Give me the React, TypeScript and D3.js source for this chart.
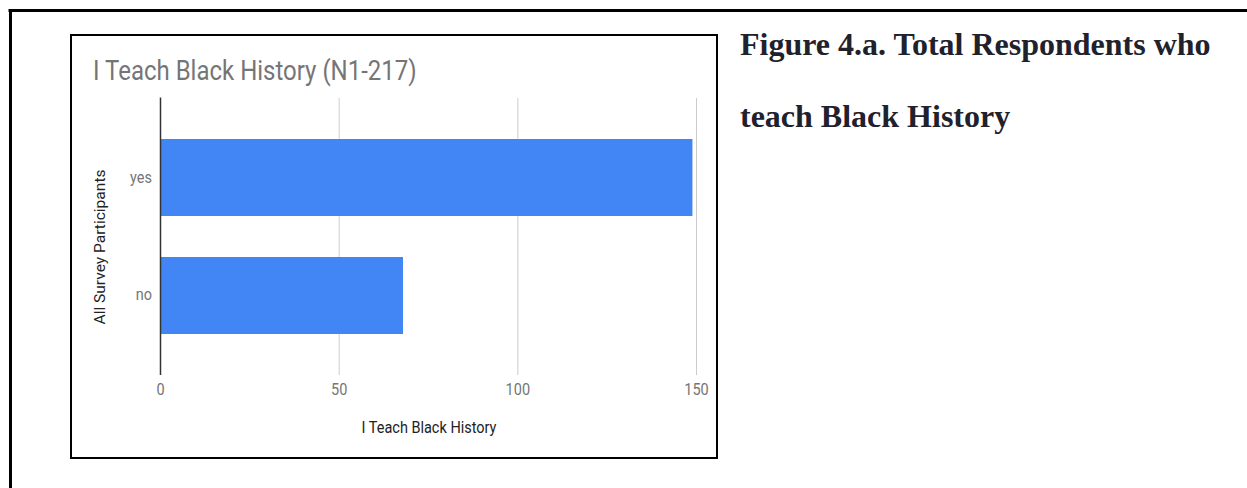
import React from "react";
import * as d3 from "d3";

const categories = ["yes", "no"];
const values = [149, 68];
const xTicks = [0, 50, 100, 150];
const chartTitle = "I Teach Black History (N1-217)";
const xAxisTitle = "I Teach Black History";
const yAxisTitle = "All Survey Participants";
const captionLines = ["Figure 4.a. Total Respondents who", "teach Black History"];

const font = "Roboto, 'Noto Sans', sans-serif";
const SY = 1.12;

function T(props: { x: number; y: number; size: number; fill: string; anchor?: string; children: React.ReactNode; weight?: string; family?: string }) {
  return (
    <text
      transform={`translate(${props.x},${props.y}) scale(1,${SY})`}
      textAnchor={props.anchor || "start"}
      fontFamily={props.family || font}
      fontWeight={props.weight || "normal"}
      fontSize={props.size}
      fill={props.fill}
    >
      {props.children}
    </text>
  );
}

export default function App() {
  const W = 1247, H = 488;
  const x = d3.scaleLinear().domain([0, 150]).range([160, 696]);
  const y = d3.scaleBand<string>().domain(categories).range([98, 375]).padding(0.3475);
  return (
    <svg width={W} height={H} style={{ position: "absolute", left: 0, top: 0, background: "#fff" }}>
      <rect x={0} y={0} width={W} height={H} fill="#fff" />
      {/* outer frame */}
      <line x1={8.5} x2={W} y1={10.5} y2={10.5} stroke="#000" strokeWidth={3} />
      <line x1={10.5} x2={10.5} y1={9} y2={H} stroke="#000" strokeWidth={3} />
      {/* chart box */}
      <rect x={71} y={35} width={646} height={423} fill="#fff" stroke="#000" strokeWidth={2} />
      <T x={93} y={80} size={24} fill="#757575">{chartTitle}</T>
      {/* gridlines */}
      {xTicks.filter(t => t !== 0).map(t => (
        <line key={t} x1={x(t) + 0.5} x2={x(t) + 0.5} y1={98} y2={375} stroke="#cccccc" strokeWidth={1} />
      ))}
      {/* bars */}
      {categories.map((c, i) => (
        <rect key={c} x={x(0)} y={y(c)} width={x(values[i]) - x(0)} height={y.bandwidth()} fill="#4285f4" />
      ))}
      {/* baseline axis */}
      <line x1={160.5} x2={160.5} y1={97.5} y2={375} stroke="#333" strokeWidth={1.5} />
      {/* tick labels */}
      {xTicks.map(t => (
        <T key={t} x={x(t) + 0.5} y={395} anchor="middle" size={14.5} fill="#757575">{t}</T>
      ))}
      {categories.map(c => (
        <T key={c} x={152} y={(y(c) as number) + y.bandwidth() / 2 + 5} anchor="end" size={14.5} fill="#757575">{c}</T>
      ))}
      <T x={429} y={433} anchor="middle" size={14.5} fill="#222">{xAxisTitle}</T>
      <text
        transform={`translate(105,247) rotate(-90)`}
        textAnchor="middle"
        fontFamily={font}
        fontSize={15}
        fill="#222"
        textLength={155}
        lengthAdjust="spacingAndGlyphs"
      >
        {yAxisTitle}
      </text>
      {/* caption */}
      {captionLines.map((l, i) => (
        <text key={i} x={740} y={55 + i * 72} fontFamily="'Liberation Serif', 'Times New Roman', serif" fontWeight="bold" fontSize={32} fill="#1f222c">{l}</text>
      ))}
    </svg>
  );
}
